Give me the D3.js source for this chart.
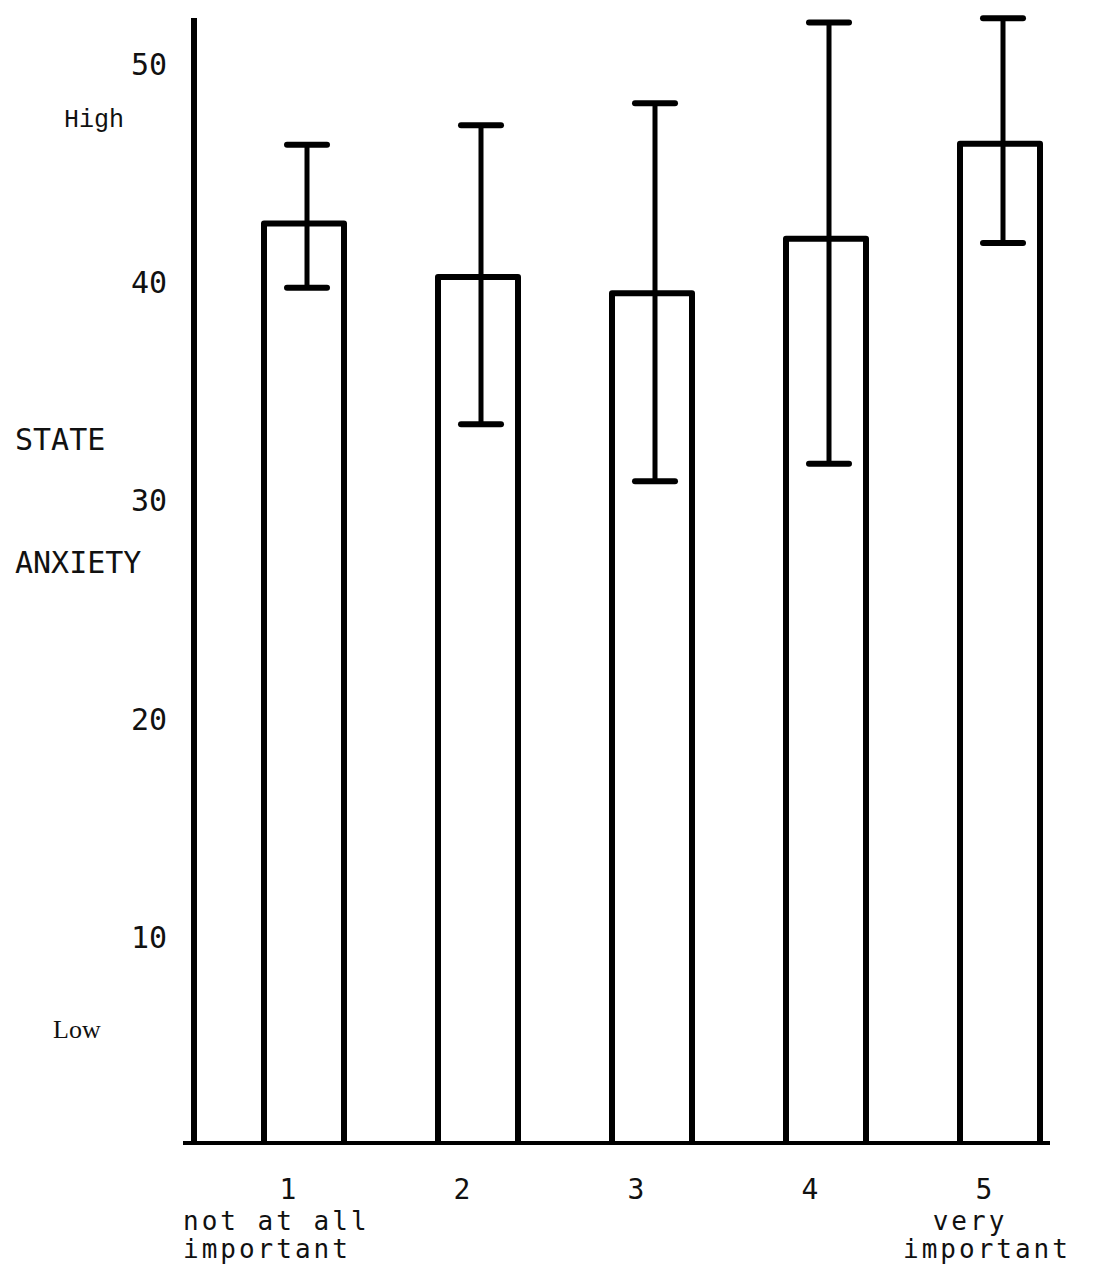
<!DOCTYPE html>
<html>
<head>
<meta charset="utf-8">
<script src="https://cdn.jsdelivr.net/npm/d3@7"></script>
<style>
  body { margin: 0; background: #fff; }
  svg { display: block; }
</style>
</head>
<body>
<svg id="chart"></svg>
<script>
// data
const categories = ["1", "2", "3", "4", "5"];
const means = [42.7, 40.25, 39.5, 42.0, 46.35];
const errLow = [39.75, 33.5, 30.9, 31.7, 41.8];
const errHigh = [46.3, 47.2, 48.2, 51.9, 52.1];
const yTicks = [10, 20, 30, 40, 50];
const firstNote = ["not at all", "important"];
const lastNote = ["very", "important"];

const width = 1094, height = 1273;
const svg = d3.select("#chart").attr("width", width).attr("height", height);

const axisX = 194;      // vertical axis position
const baseY = 1143;     // horizontal axis position
const barW = 80;

const x = d3.scalePoint().domain(categories).range([304, 1000]);
const y = d3.scaleLinear().domain([0, 50]).range([1156, 64]);

const mono = "'DejaVu Sans Mono', monospace";

// axes (hand drawn look: heavy black lines)
svg.append("line")
  .attr("x1", axisX).attr("x2", axisX)
  .attr("y1", 18).attr("y2", baseY + 2)
  .attr("stroke", "#000").attr("stroke-width", 6);
svg.append("line")
  .attr("x1", 183).attr("x2", 1050)
  .attr("y1", baseY).attr("y2", baseY)
  .attr("stroke", "#000").attr("stroke-width", 4);

// y tick labels
svg.selectAll("text.ytick")
  .data(yTicks)
  .enter()
  .append("text")
  .attr("class", "ytick")
  .attr("x", 167)
  .attr("y", d => y(d))
  .attr("dy", "0.35em")
  .attr("text-anchor", "end")
  .attr("font-family", mono)
  .attr("font-size", 30)
  .attr("fill", "#111")
  .text(d => d);

// bars: open boxes standing on the axis
svg.selectAll("path.bar")
  .data(means)
  .enter()
  .append("path")
  .attr("class", "bar")
  .attr("d", (d, i) => {
    const cx = x(categories[i]);
    const l = cx - barW / 2, r = cx + barW / 2;
    return `M${l},${baseY} L${l},${y(d)} L${r},${y(d)} L${r},${baseY}`;
  })
  .attr("fill", "none")
  .attr("stroke", "#000")
  .attr("stroke-width", 6)
  .attr("stroke-linejoin", "round");

// error bars
const eg = svg.selectAll("g.err")
  .data(categories)
  .enter()
  .append("g")
  .attr("class", "err")
  .attr("transform", d => `translate(${x(d) + 3},0)`);
eg.append("line")
  .attr("y1", (d, i) => y(errLow[i]))
  .attr("y2", (d, i) => y(errHigh[i]))
  .attr("stroke", "#000").attr("stroke-width", 5);
eg.append("line")
  .attr("x1", -20).attr("x2", 20)
  .attr("y1", (d, i) => y(errHigh[i]))
  .attr("y2", (d, i) => y(errHigh[i]))
  .attr("stroke", "#000").attr("stroke-width", 6).attr("stroke-linecap", "round");
eg.append("line")
  .attr("x1", -20).attr("x2", 20)
  .attr("y1", (d, i) => y(errLow[i]))
  .attr("y2", (d, i) => y(errLow[i]))
  .attr("stroke", "#000").attr("stroke-width", 6).attr("stroke-linecap", "round");

// category labels
svg.selectAll("text.xtick")
  .data(categories)
  .enter()
  .append("text")
  .attr("class", "xtick")
  .attr("x", d => x(d) - 16)
  .attr("y", 1199)
  .attr("text-anchor", "middle")
  .attr("font-family", mono)
  .attr("font-size", 28)
  .attr("fill", "#111")
  .text(d => d);

const note = svg.append("g")
  .attr("font-family", mono)
  .attr("font-size", 26)
  .attr("letter-spacing", 3)
  .attr("fill", "#111");
note.selectAll("text.first")
  .data(firstNote)
  .enter()
  .append("text")
  .attr("class", "first")
  .attr("x", x(categories[0]) - 121)
  .attr("y", (d, i) => 1230 + i * 28)
  .text(d => d);
note.selectAll("text.last")
  .data(lastNote)
  .enter()
  .append("text")
  .attr("class", "last")
  .attr("x", (d, i) => x(categories[4]) - (i === 0 ? 30 : 13))
  .attr("y", (d, i) => 1230 + i * 28)
  .attr("text-anchor", "middle")
  .text(d => d);

// axis title
const title = svg.append("g")
  .attr("font-family", mono)
  .attr("font-size", 30)
  .attr("fill", "#111");
title.append("text").attr("x", 15).attr("y", 450).text("STATE");
title.append("text").attr("x", 15).attr("y", 573).text("ANXIETY");

// High / Low marks
svg.append("text")
  .attr("x", 64).attr("y", 127)
  .attr("font-family", "'Liberation Mono', monospace")
  .attr("font-size", 25)
  .attr("fill", "#111")
  .text("High");
svg.append("text")
  .attr("x", 53).attr("y", 1038)
  .attr("font-family", "'Liberation Serif', serif")
  .attr("font-size", 26)
  .attr("fill", "#111")
  .text("Low");
</script>
</body>
</html>
